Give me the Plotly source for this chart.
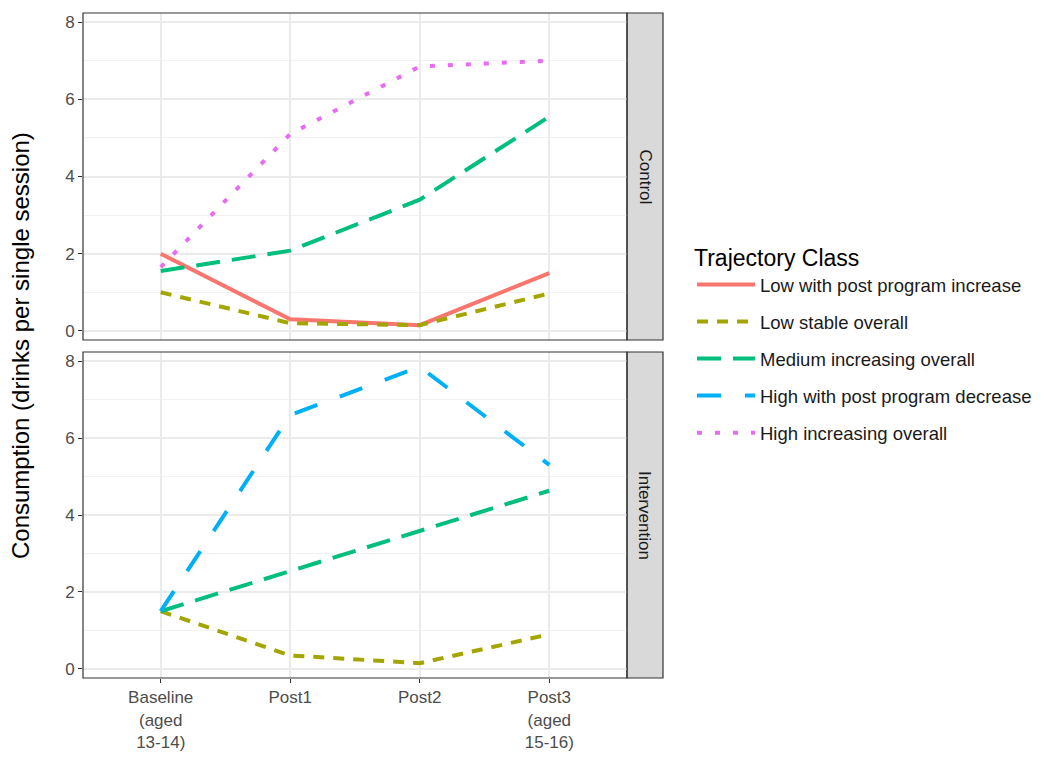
import plotly.graph_objects as go

# ---- data ----
timepoints = ["Baseline<br>(aged<br>13-14)", "Post1", "Post2", "Post3<br>(aged<br>15-16)"]
classes = ["Low with post program increase", "Low stable overall", "Medium increasing overall",
           "High with post program decrease", "High increasing overall"]

control_low_increase = [2.0, 0.3, 0.15, 1.5]
control_low_stable = [1.0, 0.2, 0.15, 0.97]
control_medium = [1.55, 2.08, 3.4, 5.55]
control_high_increasing = [1.65, 5.1, 6.85, 7.0]

intervention_low_stable = [1.5, 0.35, 0.15, 0.9]
intervention_medium = [1.5, 2.55, 3.6, 4.63]
intervention_high_decrease = [1.5, 6.6, 7.85, 5.3]

facets = ["Control", "Intervention"]

# ---- styles ----
colors = {
    classes[0]: "#F8766D",
    classes[1]: "#A3A500",
    classes[2]: "#00BF7D",
    classes[3]: "#00B0F6",
    classes[4]: "#E76BF3",
}
dashes = {
    classes[0]: "solid",
    classes[1]: "11px,9px",
    classes[2]: "24px,12px",
    classes[3]: "24px,24px",
    classes[4]: "5px,13px",
}

FONT = "Liberation Sans, Arial, Helvetica, sans-serif"
OFF = 8  # page body margin
W, H = 1045 - 2 * OFF, 761 - 2 * OFF
def px_x(p): return (p - OFF) / W
def px_y(p): return 1 - (p - OFF) / H

panel_x = (83, 627)
top_y = (13, 340)
bot_y = (352, 678)
strip_x = (627, 663)

fig = go.Figure()

series = [
    ("Control", classes[0], control_low_increase),
    ("Control", classes[1], control_low_stable),
    ("Control", classes[2], control_medium),
    ("Control", classes[4], control_high_increasing),
    ("Intervention", classes[1], intervention_low_stable),
    ("Intervention", classes[2], intervention_medium),
    ("Intervention", classes[3], intervention_high_decrease),
]
shown = set()
for facet, cls, vals in series:
    yaxis = "y" if facet == "Control" else "y2"
    xaxis = "x" if facet == "Control" else "x2"
    fig.add_trace(go.Scatter(
        x=timepoints, y=vals, mode="lines", name=cls,
        xaxis=xaxis, yaxis=yaxis,
        line=dict(color=colors[cls], width=4, dash=dashes[cls]),
        legendgroup=cls, legendrank=classes.index(cls) + 1,
        showlegend=cls not in shown,
    ))
    shown.add(cls)

grid_col = "#EBEBEB"
yrange = [-0.235, 8.235]
xrange = [-0.6, 3.6]
tickfont = dict(family=FONT, size=17, color="#4D4D4D")

common_y = dict(range=yrange, tickvals=[0, 2, 4, 6, 8], showgrid=True, gridcolor=grid_col, gridwidth=1.5,
                minor=dict(tickvals=[1, 3, 5, 7], showgrid=True, gridcolor="#F2F2F2", gridwidth=0.8, ticks=""),
                ticks="outside", ticklen=4, tickcolor="#333333", tickwidth=1.2,
                tickfont=tickfont, zeroline=False, showline=False)
common_x = dict(type="category", categoryorder="array", categoryarray=timepoints, range=xrange,
                showgrid=True, gridcolor=grid_col, gridwidth=1.5, zeroline=False, showline=False)

fig.update_layout(
    width=W, height=H,
    margin=dict(l=0, r=0, t=0, b=0),
    paper_bgcolor="white", plot_bgcolor="white",
    font=dict(family=FONT),
    xaxis=dict(domain=[px_x(panel_x[0]), px_x(panel_x[1])], anchor="y", showticklabels=False, ticks="", **common_x),
    xaxis2=dict(domain=[px_x(panel_x[0]), px_x(panel_x[1])], anchor="y2", matches="x", ticks="outside", ticklen=4,
                tickcolor="#333333", tickwidth=1.2, tickfont=dict(family=FONT, size=17, color="#4D4D4D"),
                **common_x),
    yaxis=dict(domain=[px_y(top_y[1]), px_y(top_y[0])], anchor="x", **common_y),
    yaxis2=dict(domain=[px_y(bot_y[1]), px_y(bot_y[0])], anchor="x2", **common_y),
    legend=dict(
        title=dict(text="Trajectory Class", font=dict(size=23, color="#000000")),
        font=dict(size=18.5, color="#1A1A1A"),
        x=px_x(692), y=px_y(236), xanchor="left", yanchor="top",
        traceorder="grouped", tracegroupgap=10, itemwidth=58,
        bgcolor="rgba(0,0,0,0)",
    ),
    showlegend=True,
)

shapes = []
for (y0, y1) in (top_y, bot_y):
    shapes.append(dict(type="rect", xref="paper", yref="paper",
                       x0=px_x(strip_x[0]), x1=px_x(strip_x[1]), y0=px_y(y1), y1=px_y(y0),
                       fillcolor="#D9D9D9", line=dict(color="#333333", width=1.2), layer="below"))
    shapes.append(dict(type="rect", xref="paper", yref="paper",
                       x0=px_x(panel_x[0]), x1=px_x(panel_x[1]), y0=px_y(y1), y1=px_y(y0),
                       fillcolor="rgba(0,0,0,0)", line=dict(color="#333333", width=1.2), layer="above"))
fig.update_layout(shapes=shapes)

annotations = []
for facet, (y0, y1) in zip(facets, (top_y, bot_y)):
    annotations.append(dict(text=facet, xref="paper", yref="paper",
                            x=px_x((strip_x[0] + strip_x[1]) / 2), y=px_y((y0 + y1) / 2),
                            showarrow=False, textangle=90, xanchor="center", yanchor="middle",
                            font=dict(size=17, color="#1A1A1A")))
annotations.append(dict(text="Consumption (drinks per single session)", xref="paper", yref="paper",
                        x=px_x(20), y=px_y(346), showarrow=False, textangle=-90,
                        xanchor="center", yanchor="middle", font=dict(size=24, color="#000000")))
fig.update_layout(annotations=annotations)

fig.write_html("out.html")
